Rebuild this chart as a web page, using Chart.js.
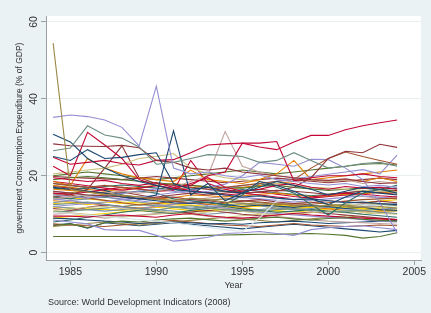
<!DOCTYPE html>
<html>
<head>
<meta charset="utf-8">
<script src="https://cdn.jsdelivr.net/npm/chart.js@4"></script>
<style>
body{margin:0;background:#eaf2f3;}
canvas{display:block;}
</style>
</head>
<body>
<canvas id="chart" width="431" height="313"></canvas>
<script>
//data

const years = [1984,1985,1986,1987,1988,1989,1990,1991,1992,1993,1994,1995,1996,1997,1998,1999,2000,2001,2002,2003,2004];
const xTicks = [1985,1990,1995,2000,2005];
const yTicks = [0,20,40,60];

// outliers
const s01 = [54.5,16.5,15.8,15.2,14.9,14.5,14.0,13.6,14.2,13.8,13.2,12.9,12.5,12.8,12.4,12.0,12.3,12.1,11.8,12.0,11.6];
const s02 = [35.2,35.8,35.4,34.5,32.6,27.8,43.3,22.0,20.5,21.0,20.0,19.5,20.2,19.0,18.5,18.0,17.6,18.0,17.2,17.5,17.0];
const s03 = [26.5,27.2,33.0,30.6,29.8,27.5,23.0,23.5,24.5,25.5,25.3,25.0,23.5,24.0,26.0,24.0,22.0,22.5,23.2,23.5,22.5];
const s04 = [30.8,28.8,24.5,22.0,20.0,18.5,17.5,16.5,16.0,15.5,15.0,14.5,14.8,14.2,13.8,14.0,13.5,13.0,13.2,12.8,12.5];
const s05 = [25.0,24.0,26.8,24.5,24.8,25.5,26.0,18.0,16.5,17.0,16.0,15.5,17.0,18.5,17.5,16.5,15.0,16.0,17.0,16.5,15.5];
const s06 = [17.0,16.5,16.0,15.5,14.5,14.0,15.0,31.7,15.0,18.0,13.5,15.5,18.5,17.5,16.0,14.0,12.5,14.5,16.0,15.5,15.0];
const s07 = [28.3,27.8,27.7,27.6,27.9,27.3,24.0,23.5,22.0,21.5,22.0,21.0,20.5,20.0,19.5,19.0,18.8,19.2,18.5,18.0,18.2];
const s08 = [22.5,20.0,31.3,28.0,24.5,19.0,17.5,16.5,18.0,19.5,17.0,16.0,16.5,17.5,18.0,17.0,16.5,17.2,16.8,17.0,16.5];
const s09 = [24.8,23.0,23.5,24.0,23.2,22.8,24.0,24.2,26.0,28.0,28.3,28.5,28.5,28.9,18.7,19.5,20.0,20.0,20.5,19.8,19.5];
const s10 = [19.5,19.0,18.5,18.8,18.0,17.5,18.2,17.0,17.5,20.0,21.0,28.5,27.5,26.8,28.8,30.5,30.5,32.0,33.0,33.8,34.5];
const s11 = [14.0,14.5,15.0,15.5,16.0,15.5,16.0,17.0,18.5,20.0,31.5,22.5,21.0,20.0,19.5,19.0,18.5,19.0,18.0,18.5,18.0];
const s12 = [16.0,15.5,15.0,14.8,14.5,14.0,14.5,15.0,15.5,15.0,15.5,16.0,16.5,16.0,17.0,19.5,24.5,26.4,26.0,28.2,27.4];
const s13 = [18.0,17.5,17.0,17.5,17.0,16.5,16.0,16.5,17.0,16.5,17.0,17.5,18.0,18.5,19.0,22.0,24.5,26.2,25.0,24.0,23.0];
const s14 = [15.0,14.6,14.2,14.8,15.4,16.0,16.6,16.0,15.4,16.0,16.8,17.4,18.0,18.6,19.2,19.8,20.4,21.0,21.6,20.5,25.4];
const s15 = [12.0,12.4,12.8,13.2,13.8,14.4,15.0,15.6,16.2,17.0,17.8,20.0,23.5,23.0,22.5,24.3,24.2,22.0,19.0,13.0,5.2];
const s16 = [8.5,8.0,7.5,6.0,5.8,5.8,4.5,3.0,3.4,4.0,5.0,5.2,5.5,5.0,4.5,6.0,6.5,6.8,7.0,6.5,6.0];
const s17 = [4.2,4.2,4.2,4.2,4.2,4.2,4.2,4.3,4.4,4.5,4.6,4.7,4.8,4.8,4.9,5.0,4.8,4.5,3.8,4.2,5.2];
const s18 = [10.5,10.2,9.8,9.4,9.0,8.6,8.2,7.8,7.2,6.6,6.0,5.5,9.0,13.5,14.2,13.8,13.4,13.0,12.6,12.2,11.8];
const s19 = [14.5,14.0,15.0,14.5,15.5,16.0,15.5,14.0,13.5,13.0,12.5,15.0,18.0,17.0,15.5,12.5,9.8,13.0,15.5,16.5,17.5];
const s20 = [18.5,17.5,24.5,22.0,20.5,19.5,19.0,18.5,21.5,19.0,18.5,18.0,19.0,20.5,24.0,19.0,18.5,19.0,18.5,19.5,18.5];
const s21 = [20.5,21.0,21.5,22.0,23.0,24.5,25.0,25.8,22.0,20.5,19.5,19.0,18.5,18.0,17.5,17.0,16.8,16.5,16.2,16.0,15.8];
const s22 = [15.5,15.2,15.8,16.4,17.0,16.6,16.0,16.2,24.0,18.0,16.5,15.5,15.0,14.5,14.0,14.5,15.0,15.5,15.2,14.8,14.5];
const s23 = [14.5,15.0,16.5,22.0,27.8,19.5,18.0,17.5,17.0,16.5,16.0,15.5,15.8,16.2,16.0,15.6,15.2,15.6,16.0,15.6,15.2];

// main band
const b01 = [18.0,17.5,17.0,16.2,15.0,14.0,13.5,13.0,12.8,13.2,12.5,12.0,12.4,12.1,11.8,12.2,12.0,11.5,11.8,11.2,11.0];
const b02 = [17.2,16.8,16.0,15.5,15.8,15.0,14.2,14.5,13.8,13.5,13.0,13.4,13.8,13.2,12.8,13.0,13.5,13.2,12.9,13.4,13.0];
const b03 = [7.0,7.5,6.5,7.8,8.2,8.0,8.5,8.8,9.0,8.6,8.2,8.5,9.0,9.2,8.8,8.5,8.9,9.1,8.7,8.4,8.2];
const b04 = [16.5,16.2,15.8,15.0,14.6,14.2,14.0,14.3,15.0,14.8,14.5,14.8,15.2,15.5,15.0,14.6,14.8,15.2,15.4,15.6,15.8];
const b05 = [12.5,12.8,13.2,12.6,12.0,11.5,11.0,11.8,12.2,11.6,11.2,11.0,10.8,11.2,11.5,11.0,10.6,10.8,11.0,10.5,10.2];
const b06 = [9.5,9.5,9.3,9.6,9.8,9.5,9.2,9.8,10.2,9.6,9.2,9.0,9.3,9.8,10.2,9.8,9.5,9.2,9.0,8.8,8.6];
const b07 = [14.0,13.5,13.0,12.5,11.8,11.5,12.0,12.6,13.0,12.2,11.6,11.0,10.5,10.2,9.8,9.5,9.2,9.0,8.6,8.2,8.0];
const b08 = [11.0,11.3,11.8,12.0,11.5,11.2,10.8,10.4,10.0,10.6,11.0,10.8,10.2,9.8,10.0,10.4,10.8,11.0,10.6,10.2,10.0];
const b09 = [15.5,15.0,14.2,13.6,13.0,12.4,12.8,13.4,13.0,12.6,13.0,13.5,13.2,12.8,12.4,12.6,13.0,13.4,13.8,14.0,14.2];
const b10 = [13.0,13.6,14.0,14.5,13.8,13.2,12.6,12.0,11.6,12.0,12.4,12.8,12.2,11.6,11.2,11.5,11.8,11.4,11.0,11.3,11.6];
const b11 = [8.0,8.5,9.2,9.8,10.5,11.0,10.6,10.2,11.0,11.5,12.0,11.4,11.0,10.5,10.8,11.2,10.8,10.5,10.0,9.6,9.2];
const b12 = [15.0,15.6,16.0,15.5,15.0,14.5,14.0,13.4,13.0,13.6,14.0,13.5,13.0,12.6,12.8,13.2,12.6,12.2,12.5,12.8,12.4];
const b13 = [10.0,10.3,9.6,9.0,9.4,9.8,10.2,10.5,10.0,9.5,9.0,8.6,9.0,9.4,9.0,8.5,8.2,8.0,7.8,7.6,7.4];
const b14 = [12.8,13.0,12.5,13.2,12.8,12.6,13.0,12.5,12.2,12.6,12.8,12.4,12.0,12.3,12.0,11.8,12.2,12.0,11.5,11.2,11.0];
const b15 = [14.5,14.2,14.0,13.6,13.2,13.0,12.8,12.6,12.4,12.0,11.8,12.0,12.2,11.6,11.4,11.8,12.0,11.6,11.4,11.6,11.8];
const b16 = [9.0,8.8,8.5,8.2,8.0,7.6,7.8,8.0,7.8,7.5,7.6,7.4,7.8,8.0,8.2,7.9,7.6,7.8,8.0,8.2,8.4];
const b17 = [11.5,11.0,11.8,12.4,12.0,11.4,10.8,10.2,10.6,11.0,10.5,10.0,9.6,9.8,10.2,10.6,10.2,9.8,9.4,9.0,8.6];
const b18 = [19.0,19.5,19.8,19.5,19.0,18.6,18.2,17.8,17.5,17.2,17.0,16.8,17.2,17.5,17.0,16.6,16.2,16.5,16.8,16.4,16.0];
const b19 = [13.5,13.2,12.8,12.4,12.0,11.6,12.0,12.5,13.0,12.6,12.2,11.8,12.2,12.6,12.2,11.8,11.4,11.0,10.6,10.8,11.0];
const b20 = [10.5,10.8,11.2,11.6,12.0,12.5,12.2,11.8,11.4,11.8,12.2,12.6,13.0,12.6,12.2,11.8,12.2,12.6,13.0,12.6,12.2];
const b21 = [18.5,18.0,17.4,16.8,16.2,16.8,17.4,16.8,16.2,15.6,15.0,15.4,15.8,15.2,14.6,14.2,14.6,15.0,15.4,15.8,16.2];
const b22 = [16.0,15.5,15.0,14.5,14.0,13.5,13.0,12.8,13.2,13.6,14.0,14.4,14.0,13.6,13.2,13.6,14.0,14.4,14.8,14.4,14.0];
const b23 = [10.8,10.4,10.0,9.6,9.2,9.6,10.0,10.4,10.0,9.6,9.2,9.6,10.0,10.4,10.8,11.2,10.8,10.4,10.0,10.4,10.8];
const b24 = [7.5,7.2,7.0,6.8,7.2,7.6,8.0,8.4,8.0,7.6,7.2,7.0,6.8,7.2,7.6,7.2,7.0,6.8,7.0,7.2,7.0];
const b25 = [12.0,11.6,11.2,10.8,11.2,11.6,11.2,10.8,10.4,10.0,10.4,10.8,11.2,11.6,12.0,12.4,12.0,11.6,12.0,12.4,12.8];
const b26 = [16.8,16.4,16.8,17.2,17.6,17.2,16.8,16.4,16.0,15.6,16.0,16.4,16.0,15.6,15.2,14.8,15.2,15.6,16.0,16.4,16.8];
const b27 = [6.8,7.2,7.6,8.0,7.6,7.2,7.6,8.0,8.4,8.8,9.2,8.8,8.4,8.0,8.4,8.8,9.2,9.6,9.2,8.8,8.4];
const b28 = [13.8,14.2,14.6,15.0,14.6,14.2,13.8,13.4,13.8,14.2,14.6,15.0,14.6,14.2,13.8,14.2,14.6,15.0,14.6,14.2,14.6];
const b29 = [11.8,11.6,11.4,11.2,11.0,11.4,11.8,11.4,11.0,10.8,11.2,11.6,11.2,10.8,10.6,11.0,11.4,11.8,11.4,11.0,10.8];
const b30 = [9.0,9.4,9.8,10.2,10.6,11.0,10.6,10.2,10.6,11.0,11.4,11.0,10.6,11.0,11.4,11.8,12.2,12.6,13.0,13.4,13.8];
const b31 = [7.2,7.6,6.4,7.8,7.4,7.0,7.4,7.8,7.4,7.0,6.6,6.2,6.6,7.0,7.4,7.0,6.6,6.2,5.8,5.4,5.8];
const b32 = [19.8,19.6,19.4,19.2,19.0,19.4,19.8,19.4,19.0,18.6,18.2,18.6,19.0,19.4,19.0,18.6,18.2,18.6,19.0,19.4,19.0];
const b33 = [20.0,20.5,21.0,20.5,20.0,19.5,19.0,19.5,20.0,20.5,21.0,21.5,21.0,20.5,21.0,21.5,22.0,22.5,23.0,23.2,22.8];
const b34 = [17.5,17.0,16.5,16.0,16.5,17.0,17.5,18.0,17.5,17.0,16.5,17.0,17.5,18.0,18.5,19.0,19.5,20.0,20.5,21.0,21.5];

//styles

const pal = {
	navy:'#1a476f', maroon:'#90353b', forest:'#55752f', dkorange:'#e37e00',
	teal:'#6e8e84', cranberry:'#c10534', lavender:'#938dd2', khaki:'#cac27e',
	sienna:'#a0522d', emidblue:'#7b92a8', emerald:'#2d6d66', brown:'#9c8847',
	erose:'#bfa19c', gold:'#ffd200', bluishgray:'#d9e6eb'
};
const cycle = ['navy','maroon','forest','dkorange','teal','cranberry','lavender','khaki','sienna','emidblue','emerald','brown','erose','gold','gold'];

const outliers = [
	[s01,'brown'],[s02,'lavender'],[s03,'teal'],[s04,'navy'],[s05,'navy'],[s06,'navy'],
	[s07,'maroon'],[s08,'cranberry'],[s09,'cranberry'],[s10,'cranberry'],[s11,'erose'],
	[s12,'maroon'],[s13,'sienna'],[s14,'lavender'],[s15,'lavender'],[s16,'lavender'],
	[s17,'forest'],[s18,'bluishgray'],[s19,'emerald'],[s20,'dkorange'],[s21,'khaki'],
	[s22,'cranberry'],[s23,'maroon']
];
const band = [b01,b02,b03,b04,b05,b06,b07,b08,b09,b10,b11,b12,b13,b14,b15,b16,b17,
	b18,b19,b20,b21,b22,b23,b24,b25,b26,b27,b28,b29,b30,b31,b32,b33,b34];

let datasets = [];
function addLine(values, colorName){
	datasets.push({
		data: values.map(function(v, i){ return {x: years[i], y: v}; }),
		borderColor: pal[colorName],
		borderWidth: 1.1,
		pointRadius: 0,
		tension: 0,
		fill: false
	});
}
for(let i=0; i<outliers.length; i++){
	addLine(outliers[i][0], outliers[i][1]);
}
for(let i=0; i<band.length; i++){
	addLine(band[i], cycle[i % cycle.length]);
}

const fontFam = '"Liberation Sans", Arial, sans-serif';

// white plot region, rotated y labels and the note
const stataLook = {
	id: 'stataLook',
	beforeDraw: function(chart){
		const c = chart.ctx;
		const a = chart.chartArea;
		c.save();
		c.fillStyle = '#eaf2f3';
		c.fillRect(0, 0, chart.width, chart.height);
		c.fillStyle = '#ffffff';
		c.fillRect(a.left, a.top, a.right - a.left, a.bottom - a.top);
		c.restore();
	},
	afterDraw: function(chart){
		const c = chart.ctx;
		const ys = chart.scales.y;
		c.save();
		c.fillStyle = '#333333';
		c.font = '10.5px ' + fontFam;
		c.textAlign = 'center';
		c.textBaseline = 'middle';
		ys.ticks.forEach(function(t){
			const py = ys.getPixelForValue(t.value);
			c.save();
			c.translate(34, py);
			c.rotate(-Math.PI / 2);
			c.fillText(String(t.value), 0, 0);
			c.restore();
		});
		c.font = '9px ' + fontFam;
		c.textAlign = 'left';
		c.fillText('Source: World Development Indicators (2008)', 48, 303);
		c.restore();
	}
};

const ctx = document.getElementById('chart');

const lineChart = new Chart(ctx, {
	type: 'line',
	data: { datasets: datasets },
	options: {
		responsive: false,
		animation: false,
		devicePixelRatio: 1,
		layout: { padding: { top: 16, right: 10, left: 0, bottom: 0 } },
		plugins: { legend: { display: false }, tooltip: { enabled: false } },
		scales: {
			x: {
				type: 'linear',
				min: 1983.585,
				max: 2005.39,
				afterBuildTicks: function(s){ s.ticks = xTicks.map(function(v){ return {value: v}; }); },
				afterFit: function(s){ s.height = 53; },
				grid: { drawOnChartArea: false, drawTicks: true, tickLength: 5, tickColor: '#9aa0a3' },
				border: { color: '#9aa0a3', width: 1 },
				ticks: {
					color: '#333333', font: { family: fontFam, size: 10.5 }, padding: 1, maxRotation: 0, autoSkip: false,
					callback: function(v){ return String(v); }
				},
				title: { display: true, text: 'Year', color: '#333333', font: { family: fontFam, size: 9 }, padding: { top: 0, bottom: 21.6 } }
			},
			y: {
				min: -1.9,
				max: 61.56,
				afterBuildTicks: function(s){ s.ticks = yTicks.map(function(v){ return {value: v}; }); },
				afterFit: function(s){ s.width = 46; },
				grid: { color: '#e8eff0', lineWidth: 1, drawTicks: true, tickLength: 5, tickColor: '#9aa0a3' },
				border: { color: '#9aa0a3', width: 1 },
				ticks: { display: false },
				title: { display: true, text: 'government Consumption Expenditure (% of GDP)', color: '#333333', font: { family: fontFam, size: 8.5 }, padding: { top: 14.9, bottom: 0 } }
			}
		}
	},
	plugins: [stataLook]
});
</script>
</body>
</html>
